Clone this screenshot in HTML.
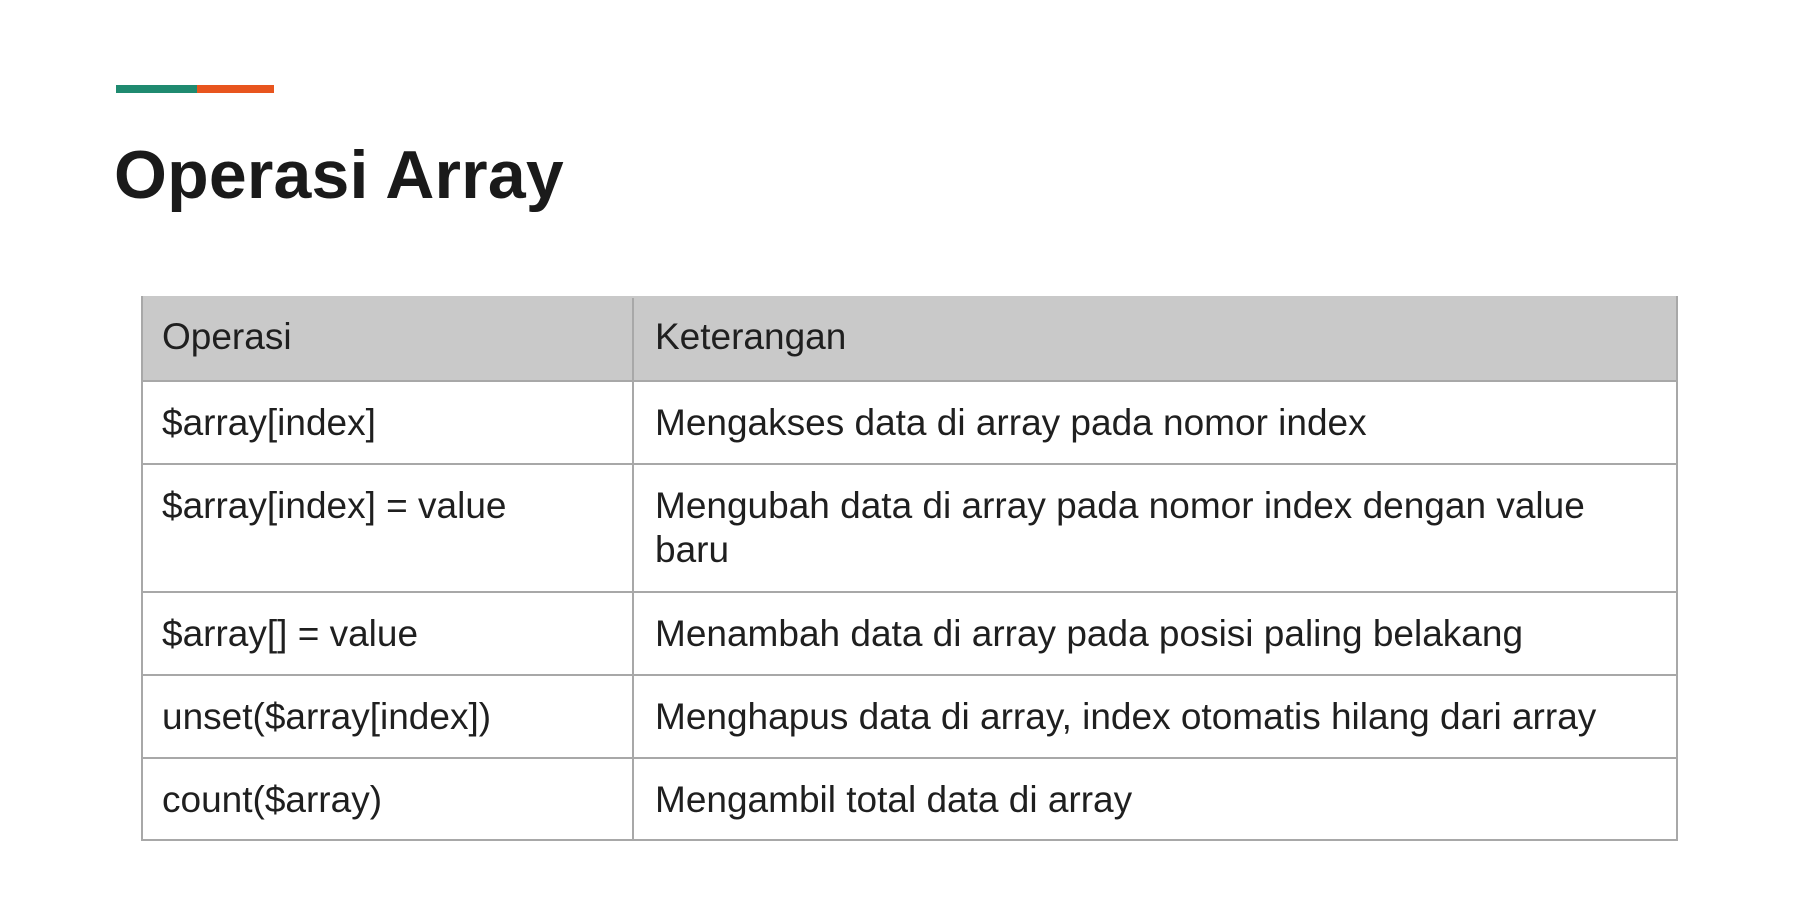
<!DOCTYPE html>
<html><head><meta charset="utf-8">
<style>
html,body{margin:0;padding:0;background:#fff;width:1797px;height:903px;overflow:hidden;font-family:"Liberation Sans",Arial,sans-serif;color:#1f1f1f}
.bar{position:absolute;top:85px;height:8px}
h1{position:absolute;left:114px;top:141px;margin:0;font-size:68px;font-weight:bold;line-height:1;color:#1a1a1a;letter-spacing:0.2px}
.t{position:absolute;left:141px;top:296px;width:1537px;height:545px;border:2px solid #a8a8a8;box-sizing:border-box}
.row{position:absolute;left:0;width:100%;border-top:2px solid #a8a8a8;box-sizing:border-box}
.c{position:absolute;top:0;font-size:37px;line-height:44px;padding-top:19px;white-space:nowrap}
.c1{left:19px}
.c2{left:512px;width:980px}
.div{position:absolute;left:489px;top:0;width:2px;height:100%;background:#a8a8a8}
</style></head><body>
<div class="bar" style="left:116px;width:81px;background:#1f8a70"></div>
<div class="bar" style="left:197px;width:77px;background:#e8551e"></div>
<h1>Operasi Array</h1>
<div class="t">
  <div class="row" style="top:-2px;height:84px;background:#c9c9c9;border-top:none"><div class="c c1">Operasi</div><div class="c c2">Keterangan</div></div>
  <div class="row" style="top:82px;height:83px"><div class="c c1">$array[index]</div><div class="c c2">Mengakses data di array pada nomor index</div></div>
  <div class="row" style="top:165px;height:128px"><div class="c c1">$array[index] = value</div><div class="c c2">Mengubah data di array pada nomor index dengan value<br>baru</div></div>
  <div class="row" style="top:293px;height:83px"><div class="c c1">$array[] = value</div><div class="c c2">Menambah data di array pada posisi paling belakang</div></div>
  <div class="row" style="top:376px;height:83px"><div class="c c1">unset($array[index])</div><div class="c c2">Menghapus data di array, index otomatis hilang dari array</div></div>
  <div class="row" style="top:459px;height:84px"><div class="c c1">count($array)</div><div class="c c2">Mengambil total data di array</div></div>
  <div class="div"></div>
</div>
</body></html>
